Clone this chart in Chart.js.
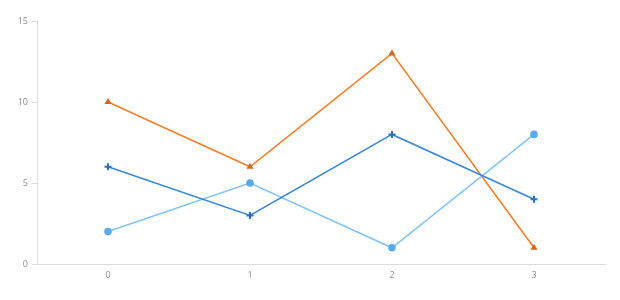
<!DOCTYPE html>
<html>
<head>
<meta charset="utf-8">
<script src="https://cdn.jsdelivr.net/npm/chart.js@4"></script>
<style>
  html, body { margin: 0; padding: 0; background: #fff; }
  #wrap { width: 620px; height: 300px; }
</style>
</head>
<body>
<div id="wrap"><canvas id="canvas" width="620" height="300"></canvas></div>
<script>
var categories = ['0', '1', '2', '3'];
var orangeValues = [10, 6, 13, 1];
var darkBlueValues = [6, 3, 8, 4];
var lightBlueValues = [2, 5, 1, 8];
var yTicks = [0, 5, 10, 15];

var config = {
    type: 'line',
    data: {
        labels: categories,
        datasets: [{
            label: 'Series 1',
            data: darkBlueValues,
            borderColor: '#3b88d8',
            backgroundColor: '#2b6fbd',
            pointBackgroundColor: '#2b6fbd',
            pointBorderColor: '#2b6fbd',
            pointStyle: 'cross',
            pointRadius: 3.5,
            pointBorderWidth: 2,
            borderWidth: 1.6,
            tension: 0
        }, {
            label: 'Series 2',
            data: lightBlueValues,
            borderColor: '#85c3f2',
            backgroundColor: '#5aa9e8',
            pointBackgroundColor: '#5aa9e8',
            pointBorderColor: '#5aa9e8',
            pointStyle: 'circle',
            pointRadius: 3,
            borderWidth: 1.6,
            tension: 0
        }, {
            label: 'Series 3',
            data: orangeValues,
            borderColor: '#f0822e',
            backgroundColor: '#d9661f',
            pointBackgroundColor: '#d9661f',
            pointBorderColor: '#d9661f',
            pointStyle: 'triangle',
            pointRadius: 2.5,
            borderWidth: 1.6,
            tension: 0
        }]
    },
    options: {
        responsive: false,
        animation: false,
        layout: { padding: { top: 21, right: 15, left: 0, bottom: 0 } },
        plugins: {
            legend: { display: false },
            tooltip: { enabled: false }
        },
        scales: {
            x: {
                offset: true,
                grid: { display: true, drawOnChartArea: false, drawTicks: false },
                border: { display: true, color: '#dcdcdc', width: 1 },
                ticks: { color: '#8f8f8f', font: { family: 'Open Sans', size: 9 }, padding: 6, maxRotation: 0 },
                afterFit: function (scale) { scale.height = 36; }
            },
            y: {
                min: 0,
                max: 15,
                afterBuildTicks: function (scale) {
                    scale.ticks = yTicks.map(function (v) { return { value: v }; });
                },
                grid: { display: true, drawOnChartArea: false, drawTicks: true, tickLength: 5, color: '#dcdcdc' },
                border: { display: true, color: '#dcdcdc', width: 1 },
                ticks: { color: '#8f8f8f', font: { family: 'Open Sans', size: 9 }, padding: 4 },
                afterFit: function (scale) { scale.width = 37; }
            }
        }
    }
};

window.onload = function () {
    window.myLine = new Chart(document.getElementById('canvas'), config);
};
</script>
</body>
</html>
